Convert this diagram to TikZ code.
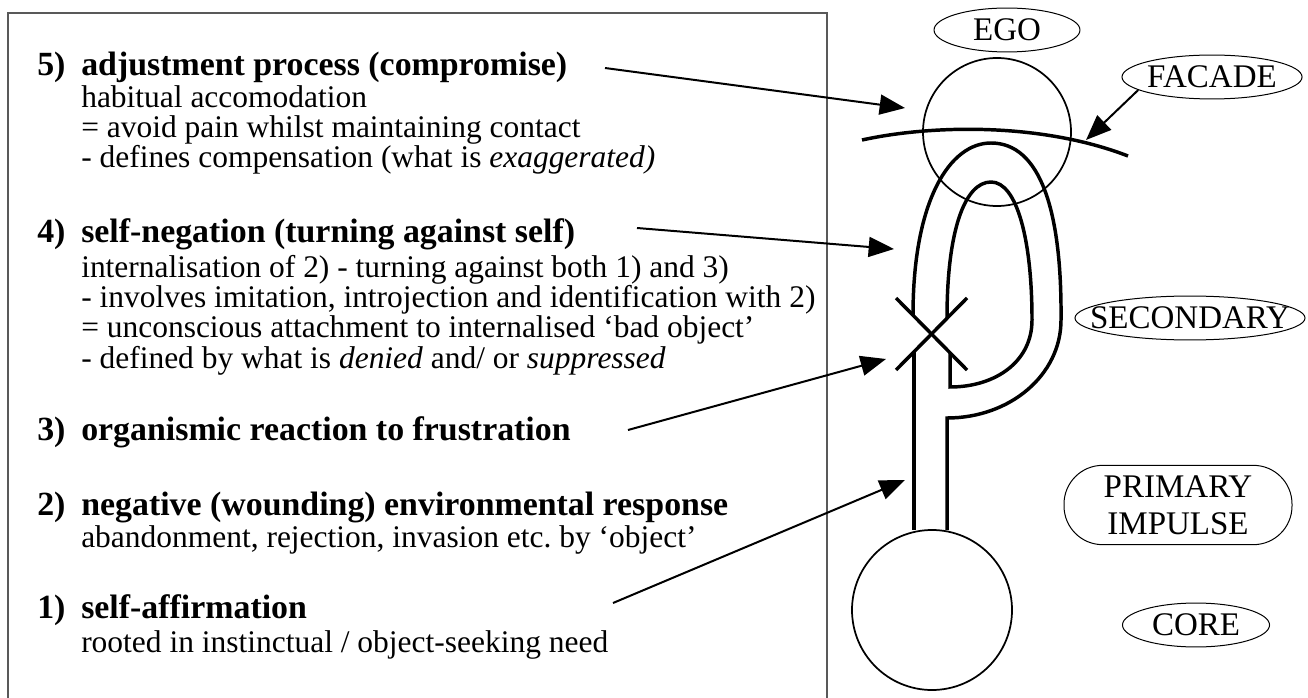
\documentclass[tikz,border=0pt]{standalone}
\usepackage{fontspec}
\setmainfont{Liberation Serif}
\usetikzlibrary{arrows.meta,shapes.geometric}
\frenchspacing
\begin{document}
\begin{tikzpicture}[x=0.75pt,y=-0.75pt,
  body/.style={anchor=base west, inner sep=0pt, font=\fontsize{23.6}{22.5}\selectfont},
  head/.style={anchor=base west, inner sep=0pt, font=\fontsize{25.4}{26}\selectfont\bfseries},
  lab/.style={draw, ellipse, inner sep=0pt, line width=0.75pt, minimum width=0pt, minimum height=0pt,
    align=center, text height=19.8pt, text depth=3.5pt, font=\fontsize{24.75}{28}\selectfont},
  arr/.style={line width=1.5pt, -{Triangle[length=19pt,width=15pt]}},
  tube/.style={line width=2.6pt},
  ring/.style={draw, circle, inner sep=0pt, line width=1.3pt}]
\useasboundingbox (0,0) rectangle (1308,698);
% frame
\draw[line width=1pt, black!65] (8,698) -- (8,13) -- (827,13) -- (827,698);
% text block
\node[head] (n5) at (37,76) {5)};
\node[head] (h5) at (81,76) {adjustment process (compromise)};
\node[body] (a5) at (81,108) {habitual accomodation};
\node[body] (b5) at (81,138) {= avoid pain whilst maintaining contact};
\node[body] (c5) at (81,168) {- defines compensation (what is \textit{exaggerated)}};
\node[head] (n4) at (37,243) {4)};
\node[head] (h4) at (81,243) {self-negation (turning against self)};
\node[body] (a4) at (81,277) {internalisation of 2) - turning against both 1) and 3)};
\node[body] (b4) at (81,307) {- involves imitation, introjection and identification with 2)};
\node[body] (c4) at (81,337) {= unconscious attachment to internalised ‘bad object’};
\node[body] (d4) at (81,368) {- defined by what is \textit{denied} and/ or \textit{suppressed}};
\node[head] (n3) at (37,440) {3)};
\node[head] (h3) at (81,440) {organismic reaction to frustration};
\node[head] (n2) at (37,515) {2)};
\node[head] (h2) at (81,515) {negative (wounding) environmental response};
\node[body] (a2) at (81,547) {abandonment, rejection, invasion etc. by ‘object’};
\node[head] (n1) at (37,618) {1)};
\node[head] (h1) at (81,618) {self-affirmation};
\node[body] (a1) at (81,652) {rooted in instinctual / object-seeking need};
% labels
\node[lab, text width=77.4pt] (ego) at (1007,30) {\makebox[\linewidth]{EGO}};
\node[lab, text width=95.5pt] (facade) at (1212,77) {\makebox[\linewidth]{FACADE}};
\node[lab, text width=122pt] (secondary) at (1190,318) {\makebox[\linewidth]{SECONDARY}};
\node[draw, rounded corners=29pt, line width=0.75pt, minimum width=171pt, minimum height=59.5pt, align=center, inner sep=0pt, font=\fontsize{24.75}{28}\selectfont] (primary) at (1178,505) {PRIMARY\\IMPULSE};
\node[lab, text width=78pt] (core) at (1196,625) {\makebox[\linewidth]{CORE}};
% circles
\node[ring, minimum size=111pt] (egocirc) at (997,132) {};
\node[ring, minimum size=120pt] (corecirc) at (932,610) {};
% facade line
\draw[tube] (862,140) .. controls (930,125) and (1040,122) .. (1128,156);
% outer loop
\draw[tube] (913,315) .. controls (913,200) and (950,143) .. (991,143)
  .. controls (1040,143) and (1062,210) .. (1061,320)
  .. controls (1061,375) and (1010,418) .. (947,418) -- (947,530);
% inner loop
\draw[tube] (947,318) .. controls (947,230) and (965,182) .. (991,182)
  .. controls (1017,182) and (1032,240) .. (1032,320)
  .. controls (1032,362) and (995,387) .. (950,387) -- (950,353);
% left stalk
\draw[tube] (914,352) -- (914,530);
% cross
\draw[tube] (896,298) -- (967,370);
\draw[tube] (967,298) -- (896,370);
% arrows
\coordinate (t5) at (605,68);  \coordinate (p5) at (905,108);
\coordinate (t4) at (637,228); \coordinate (p4) at (894,249);
\coordinate (t3) at (628,430); \coordinate (p3) at (886,359);
\coordinate (t1) at (613,603); \coordinate (p1) at (905,480);
\coordinate (pf) at (1086,140);
\draw[arr] (t5) -- (p5);
\draw[arr] (t4) -- (p4);
\draw[arr] (t3) -- (p3);
\draw[arr] (t1) -- (p1);
\draw[arr] (facade.190) -- (pf);
\end{tikzpicture}
\end{document}
